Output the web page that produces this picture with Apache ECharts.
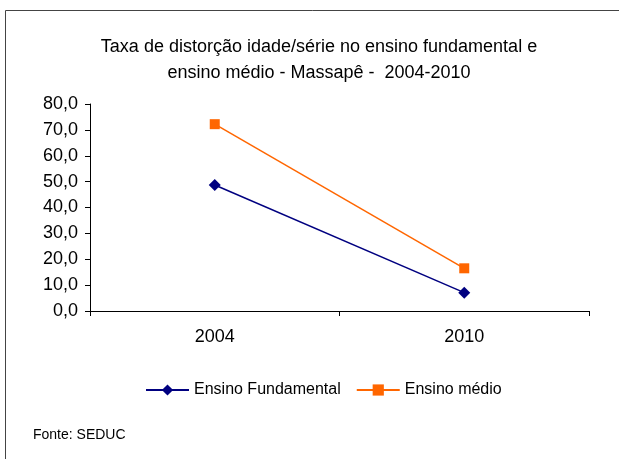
<!DOCTYPE html>
<html><head><meta charset="utf-8">
<script src="https://cdn.jsdelivr.net/npm/echarts@6/dist/echarts.min.js"></script>
<style>html,body{margin:0;padding:0;background:#fff}#c{width:619px;height:459px}</style>
</head><body><div id="c"></div>
<script>
const categories = ['2004', '2010'];
const fundamental = [48.7, 7.1];
const medio = [72.2, 16.5];
const seriesNames = ['Ensino Fundamental', 'Ensino médio'];
const titleLines = ['Taxa de distorção idade/série no ensino fundamental e', 'ensino médio - Massapê -  2004-2010'];
const sourceText = 'Fonte: SEDUC';

const chart = echarts.init(document.getElementById('c'), null, {renderer: 'canvas'});
const font = 'Liberation Sans, Arial, sans-serif';
chart.setOption({
  animation: false,
  backgroundColor: '#fff',
  graphic: [
    {type: 'rect', shape: {x: 5.5, y: 10.5, width: 700, height: 600}, style: {fill: 'none', stroke: '#444', lineWidth: 1}, silent: true},
    {type: 'text', x: 319, y: 47, style: {text: titleLines[0], fontFamily: font, fontSize: 18, fill: '#000', align: 'center', verticalAlign: 'middle'}},
    {type: 'text', x: 319, y: 73, style: {text: titleLines[1], fontFamily: font, fontSize: 18, fill: '#000', align: 'center', verticalAlign: 'middle'}},
    {type: 'text', x: 33, y: 435, style: {text: sourceText, fontFamily: font, fontSize: 14, fill: '#000', verticalAlign: 'middle'}}
  ],
  legend: {
    top: 377, left: 140, itemGap: 15, itemWidth: 43, itemHeight: 14,
    textStyle: {fontFamily: font, fontSize: 16, color: '#000'},
    data: seriesNames
  },
  grid: {left: 90, right: 30, top: 104, bottom: 148, containLabel: false},
  xAxis: {
    type: 'category', data: categories, boundaryGap: true,
    axisLine: {lineStyle: {color: '#000', width: 1}},
    axisTick: {show: true, length: 5, lineStyle: {color: '#000'}},
    axisLabel: {fontFamily: font, fontSize: 18, color: '#000', margin: 17}
  },
  yAxis: {
    type: 'value', min: 0, max: 80, interval: 10,
    axisLine: {show: true, lineStyle: {color: '#000', width: 1}},
    axisTick: {show: true, length: 5, lineStyle: {color: '#000'}},
    splitLine: {show: false},
    axisLabel: {fontFamily: font, fontSize: 18, color: '#000', margin: 12,
      formatter: v => v.toFixed(1).replace('.', ',')}
  },
  series: [
    {name: seriesNames[0], type: 'line', data: fundamental, symbol: 'diamond', symbolSize: 12,
      lineStyle: {color: '#000080', width: 1.5}, itemStyle: {color: '#000080'}},
    {name: seriesNames[1], type: 'line', data: medio, symbol: 'rect', symbolSize: 10,
      lineStyle: {color: '#FF6600', width: 1.5}, itemStyle: {color: '#FF6600'}}
  ]
});
</script></body></html>
